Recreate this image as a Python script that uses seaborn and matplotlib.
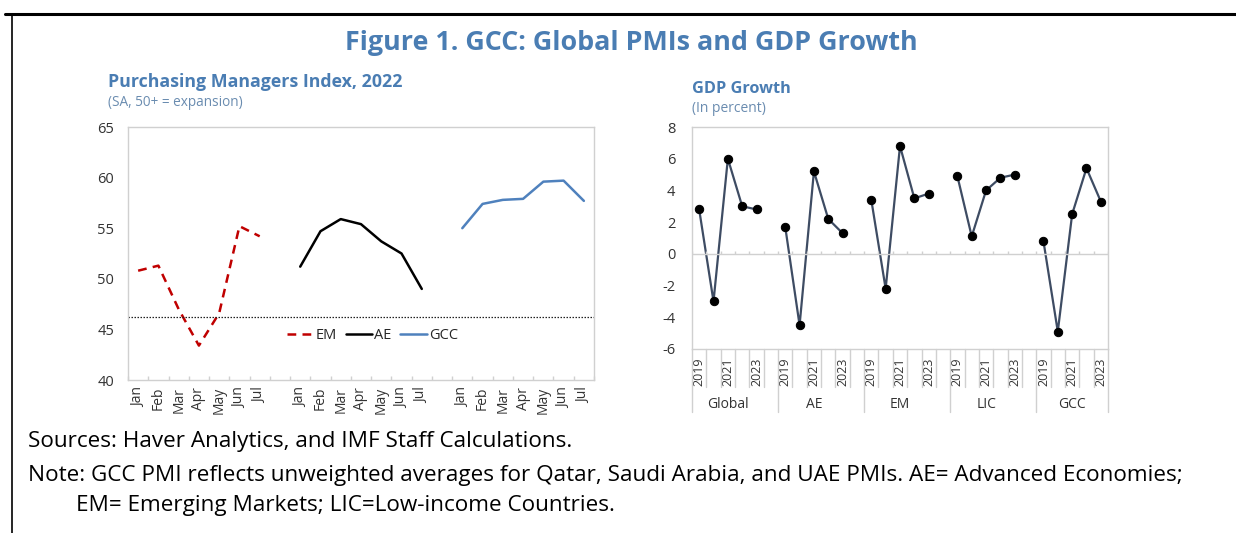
import numpy as np
import pandas as pd
import matplotlib
matplotlib.use('Agg')
import matplotlib.pyplot as plt
import matplotlib.transforms as mtransforms
from matplotlib.lines import Line2D
import seaborn as sns

# データ: PMI (2022)
months = ['Jan', 'Feb', 'Mar', 'Apr', 'May', 'Jun', 'Jul']
pmi_series = ['EM', 'AE', 'GCC']
pmi_em = [50.8, 51.3, 47.0, 43.4, 46.6, 55.2, 54.2]
pmi_ae = [51.2, 54.7, 55.9, 55.4, 53.7, 52.5, 49.0]
pmi_gcc = [55.0, 57.4, 57.8, 57.9, 59.6, 59.7, 57.7]
pmi_threshold = 46.2

# データ: GDP成長率
years = [2019, 2020, 2021, 2022, 2023]
regions = ['Global', 'AE', 'EM', 'LIC', 'GCC']
gdp_global = [2.8, -3.0, 6.0, 3.0, 2.8]
gdp_ae = [1.7, -4.5, 5.2, 2.2, 1.3]
gdp_em = [3.4, -2.2, 6.8, 3.5, 3.8]
gdp_lic = [4.9, 1.1, 4.0, 4.8, 5.0]
gdp_gcc = [0.8, -4.9, 2.5, 5.4, 3.3]

# 色
blue_title = '#4a7db3'
c_em = '#c00000'
c_ae = '#000000'
c_gcc = '#4f81bd'
c_gdp = '#3e4c63'
c_frame = '#d0d0d0'
c_tick = '#333333'

sns.set_theme(style='white')
plt.rcParams['font.family'] = ['Open Sans', 'DejaVu Sans']
plt.rcParams['axes.unicode_minus'] = False

# PMI データフレーム (グループ間に空白カテゴリ1つ)
rows = []
for g, vals in enumerate([pmi_em, pmi_ae, pmi_gcc]):
    for m, v in enumerate(vals):
        rows.append({'series': pmi_series[g], 'pos': g * (len(months) + 1) + m, 'value': v})
df_pmi = pd.DataFrame(rows)

rows = []
for g, vals in enumerate([gdp_global, gdp_ae, gdp_em, gdp_lic, gdp_gcc]):
    for i, v in enumerate(vals):
        rows.append({'region': regions[g], 'pos': g * (len(years) + 1) + i, 'value': v})
df_gdp = pd.DataFrame(rows)

fig = plt.figure(figsize=(12.36, 5.33), dpi=100)

# 枠線
fig.add_artist(Line2D([5 / 1236, 1], [1 - 14 / 533, 1 - 14 / 533], color='black', lw=2.2))
fig.add_artist(Line2D([12 / 1236, 12 / 1236], [0, 1 - 14 / 533], color='black', lw=1.2))

fig.text(0.511, 1 - 43 / 533, 'Figure 1. GCC: Global PMIs and GDP Growth', ha='center', va='center',
         fontsize=19.4, fontweight='bold', color=blue_title)

# ---- 左: PMI ----
ax1 = fig.add_axes([128 / 1236, 1 - 380 / 533, 466 / 1236, 253 / 533])
styles = {'EM': (c_em, (3.5, 2.5)), 'AE': (c_ae, None), 'GCC': (c_gcc, None)}
handles = []
for s in pmi_series:
    col, dash = styles[s]
    sub = df_pmi[df_pmi['series'] == s]
    sns.lineplot(data=sub, x='pos', y='value', ax=ax1, color=col, lw=1.8, legend=False)
    ln = ax1.lines[-1]
    if dash:
        ln.set_dashes(dash)
    handles.append(Line2D([], [], color=col, lw=1.8, dashes=dash if dash else (None, None), label=s))
ax1.axhline(pmi_threshold, color='#222222', ls=(0, (1.2, 1.2)), lw=0.9)
n_cat = len(pmi_series) * (len(months) + 1) - 1
ax1.set_xlim(-0.5, n_cat - 0.5)
ax1.set_ylim(40, 65)
ax1.set_yticks(np.arange(40, 66, 5))
pos_labels = df_pmi['pos'].tolist()
ax1.set_xticks(pos_labels)
ax1.set_xticklabels(months * len(pmi_series), rotation=90, fontsize=10, color=c_tick)
ax1.set_xticks(np.arange(-0.5, n_cat, 1), minor=True)
ax1.tick_params(axis='x', which='major', length=0, pad=5)
ax1.tick_params(axis='x', which='minor', direction='in', length=3, color=c_frame, bottom=True)
ax1.tick_params(axis='y', length=0, pad=10, labelsize=10.5, labelcolor=c_tick)
ax1.set_xlabel('')
ax1.set_ylabel('')
for sp in ax1.spines.values():
    sp.set_color(c_frame)
    sp.set_linewidth(1)
ax1.legend(handles=handles, loc='center', bbox_to_anchor=(0.525, 0.174), ncol=3, frameon=False,
           fontsize=10.5, handlelength=1.8, handletextpad=0.15, columnspacing=0.6)

fig.text(108 / 1236, 1 - 82 / 533, 'Purchasing Managers Index, 2022', ha='left', va='center',
         fontsize=12.8, fontweight='bold', color=blue_title)
fig.text(108 / 1236, 1 - 103 / 533, '(SA, 50+ = expansion)', ha='left', va='center',
         fontsize=9.8, color='#6a8cb0')

# ---- 右: GDP ----
ax2 = fig.add_axes([692 / 1236, 1 - 349 / 533, 416 / 1236, 222 / 533])
sns.lineplot(data=df_gdp, x='pos', y='value', units='region', estimator=None, ax=ax2,
             color=c_gdp, lw=1.6, marker='o', markersize=6, markerfacecolor='black',
             markeredgecolor='black', legend=False)
n_cat2 = len(regions) * (len(years) + 1) - 1
ax2.set_xlim(-0.5, n_cat2 - 0.5)
ax2.set_ylim(-6, 8)
ax2.set_yticks(np.arange(-6, 9, 2))
ax2.axhline(0, color=c_frame, lw=1)
bounds = np.arange(-0.5, n_cat2, 1)
ax2.vlines(bounds, 0, 0.18, color=c_frame, lw=1)
year_pos = [p for p, y in zip(df_gdp['pos'], years * len(regions)) if y in (2019, 2021, 2023)]
year_lab = [str(y) for y in years * len(regions) if y in (2019, 2021, 2023)]
ax2.set_xticks(year_pos)
ax2.set_xticklabels(year_lab, rotation=90, fontsize=9, color=c_tick)
ax2.tick_params(axis='x', length=0, pad=6)
ax2.tick_params(axis='y', length=0, pad=12, labelsize=10.5, labelcolor=c_tick)
ax2.set_xlabel('')
ax2.set_ylabel('')
for sp in ax2.spines.values():
    sp.set_color(c_frame)
    sp.set_linewidth(1)

# カテゴリ区切り線 (軸の下)
trans = mtransforms.blended_transform_factory(ax2.transData, ax2.transAxes)
step = len(years) + 1
for b in bounds:
    k = b + 0.5
    is_group = (k % step == 0) or (b == bounds[-1])
    ax2.plot([b, b], [0, -0.284 if is_group else -0.171], color=c_frame, lw=1,
             transform=trans, clip_on=False)
for g, r in enumerate(regions):
    center = g * step + (len(years) - 1) / 2
    ax2.text(center, -0.248, r, transform=trans, ha='center', va='center', fontsize=10, color=c_tick)

fig.text(692 / 1236, 1 - 89 / 533, 'GDP Growth', ha='left', va='center',
         fontsize=11.7, fontweight='bold', color=blue_title)
fig.text(692 / 1236, 1 - 109 / 533, '(In percent)', ha='left', va='center',
         fontsize=10, color='#6a8cb0')

# 注記
fs_note = 16.2
fig.text(28 / 1236, 1 - 441 / 533, 'Sources: Haver Analytics, and IMF Staff Calculations.',
         ha='left', va='center', fontsize=fs_note, color='black')
fig.text(28 / 1236, 1 - 476 / 533,
         'Note: GCC PMI reflects unweighted averages for Qatar, Saudi Arabia, and UAE PMIs. AE= Advanced Economies;',
         ha='left', va='center', fontsize=fs_note, color='black')
fig.text(76 / 1236, 1 - 506 / 533, 'EM= Emerging Markets; LIC=Low-income Countries.',
         ha='left', va='center', fontsize=fs_note, color='black')

fig.savefig('out.png', dpi=100, facecolor='white')
